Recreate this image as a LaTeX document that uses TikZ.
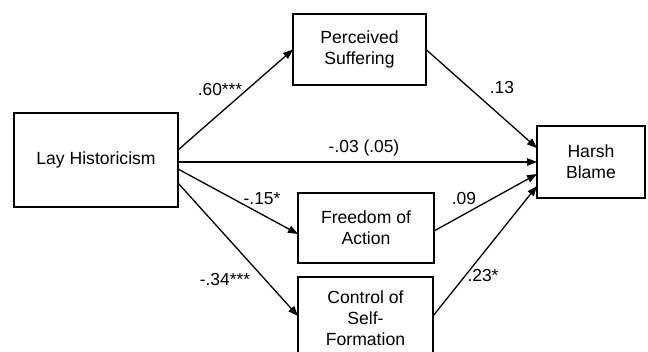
\documentclass[tikz,border=0pt]{standalone}
\usepackage{fontspec}
\setmainfont{Liberation Sans}
\usetikzlibrary{arrows.meta}
\begin{document}
\begin{tikzpicture}[x=1pt,y=-1pt,
  box/.style={draw,line width=2.6pt,align=center,inner sep=0pt,outer sep=0pt,
    font=\fontsize{17.6}{20.8}\selectfont},
  path/.style={line width=1.3pt,-{Triangle[length=10pt,width=7.5pt]}},
  lab/.style={inner sep=0pt,font=\fontsize{17.4}{20}\selectfont}]
\useasboundingbox (0,0) rectangle (648,352);
\clip (0,0) rectangle (648,352);
\node[box,minimum width=164pt,minimum height=94pt] (lh) at (96,160) {Lay Historicism};
\node[box,minimum width=133pt,minimum height=71pt] (ps) at (359.5,49.5) {Perceived\\Suffering};
\node[box,minimum width=108pt,minimum height=72pt] (hb) at (591,162) {Harsh\\Blame};
\node[box,minimum width=136pt,minimum height=70pt] (fa) at (366,228) {Freedom of\\Action};
\node[box,minimum width=135pt,minimum height=82pt] (cs) at (365.5,318) {Control of\\Self-\\Formation};
\draw[path] ([yshift=10pt]lh.east) -- (ps.west);
\draw[path] ([yshift=-2pt]lh.east) -- (hb.west);
\draw[path] ([yshift=-9pt]lh.east) -- ([yshift=-6pt]fa.west);
\draw[path] ([yshift=-23pt]lh.east) -- ([yshift=2pt]cs.west);
\draw[path] (ps.east) -- ([yshift=14pt]hb.west);
\draw[path] ([yshift=-3pt]fa.east) -- ([yshift=-12pt]hb.west);
\draw[path] ([yshift=2pt]cs.east) -- ([yshift=-24pt]hb.west);
\node[lab] (l1) at (220,90) {.60***};
\node[lab] (l2) at (502,88) {.13};
\node[lab] (l3) at (364,148) {-.03 (.05)};
\node[lab] (l4) at (262,199) {-.15*};
\node[lab] (l5) at (225,280) {-.34***};
\node[lab] (l6) at (464,199) {.09};
\node[lab] (l7) at (483,276) {.23*};
\end{tikzpicture}
\end{document}
